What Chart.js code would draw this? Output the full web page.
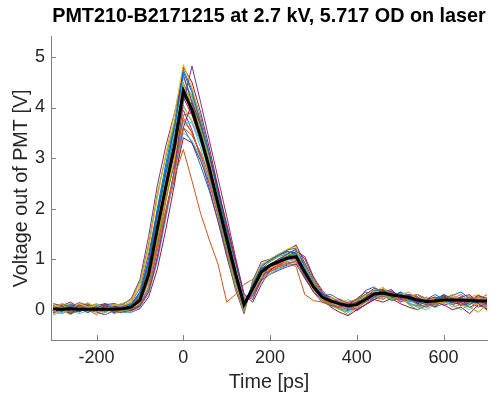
<!DOCTYPE html>
<html>
<head>
<meta charset="utf-8">
<script src="https://cdn.jsdelivr.net/npm/chart.js@4.4.1/dist/chart.umd.min.js"></script>
<style>
  html, body { margin: 0; padding: 0; background: #fff; }
</style>
</head>
<body>
<canvas id="myChart" width="492" height="394"></canvas>
<script>
// sample times in ps, one every 20 ps
const times = [-300,-280,-260,-240,-220,-200,-180,-160,-140,-120,-100,-80,-60,-40,-20,0,20,40,60,80,100,120,140,160,180,200,220,240,260,280,300,320,340,360,380,400,420,440,460,480,500,520,540,560,580,600,620,640,660,680,700];

// black average trace
const meanTrace = [0.01,0.01,0.02,0.01,0.01,0.01,0.01,0.01,0.02, 0.05,0.19,0.70,1.60,2.45,3.25,4.33, 3.95,3.42,2.80,2.10,1.40,0.72,0.10, 0.42,0.75,0.88,0.95,1.02,1.05,0.74,0.45,0.25, 0.17,0.12,0.08,0.10,0.20,0.31,0.33,0.29,0.27,0.24,0.19,0.16,0.17,0.19,0.19,0.19,0.18,0.17,0.17];

// single shots (volts)
const run01 = [0.05,-0.03,0.08,0.02,-0.06,0.04,0.10,0.03,0.06, 0.12,0.35,0.95,1.90,2.80,3.60,4.70, 4.30,3.70,3.05,2.30,1.55,0.80,0.12, 0.50,0.85,0.98,1.08,1.15,1.12,0.80,0.50,0.30, 0.20,0.10,0.05,0.12,0.25,0.38,0.40,0.30,0.33,0.20,0.15,0.10,0.20,0.25,0.15,0.22,0.10,0.20,0.15];
const run02 = [-0.08,0.02,-0.05,0.06,0.00,-0.10,0.03,-0.04,0.00, 0.00,0.10,0.40,1.15,1.95,2.75,3.60, 3.45,3.10,2.65,2.05,1.45,0.80,0.15, 0.30,0.62,0.75,0.85,0.90,0.98,0.80,0.50,0.28, 0.10,0.05,0.00,0.02,0.15,0.30,0.25,0.35,0.20,0.25,0.10,0.05,0.12,0.20,0.25,0.10,0.15,0.20,0.05];
const run03 = [0.10,0.04,0.00,0.12,0.05,0.08,-0.02,0.10,0.08, 0.15,0.45,1.20,2.20,3.10,3.90,4.85, 4.40,3.75,3.00,2.20,1.40,0.65,0.02, 0.50,0.90,1.00,1.10,1.20,1.25,0.70,0.38,0.20, 0.25,0.18,0.10,0.05,0.20,0.35,0.45,0.28,0.30,0.35,0.20,0.10,0.18,0.12,0.30,0.20,0.12,0.10,0.25];
const run04 = [0.00,0.08,-0.04,-0.02,0.10,0.02,0.05,-0.06,0.02, 0.00,0.08,0.35,1.00,1.90,2.80,4.10, 4.82,4.10,3.35,2.60,1.85,1.05,0.30, 0.20,0.60,0.90,1.00,1.10,1.20,1.00,0.62,0.35, 0.15,0.20,0.12,0.00,0.10,0.25,0.35,0.40,0.22,0.30,0.25,0.15,0.05,0.20,0.15,0.25,0.30,0.12,0.20];
const run05 = [0.05,0.12,0.08,0.00,0.06,0.10,0.02,0.08,0.12, 0.20,0.55,1.30,2.30,3.05,3.70,4.50, 4.00,3.35,2.65,1.90,1.15,0.45,-0.05, 0.55,0.90,0.95,1.05,1.10,1.08,0.68,0.40,0.18, 0.10,0.12,0.05,0.18,0.30,0.25,0.32,0.20,0.28,0.22,0.30,0.20,0.10,0.15,0.10,0.20,0.12,0.25,0.18];
const run06 = [-0.10,-0.05,0.00,-0.08,-0.02,0.04,-0.10,0.00,-0.05, -0.06,0.05,0.30,0.95,1.80,2.70,3.70, 3.70,3.30,2.80,2.15,1.50,0.85,0.20, 0.25,0.55,0.70,0.82,0.95,1.00,0.85,0.50,0.30, 0.15,0.05,-0.05,0.05,0.18,0.28,0.22,0.30,0.18,0.15,0.05,0.00,0.10,0.20,0.05,0.10,0.00,0.15,0.08];
const run07 = [0.02,0.00,0.06,-0.04,0.03,-0.02,0.08,0.00,0.04, 0.06,0.20,0.70,1.55,2.40,3.20,4.20, 3.85,3.35,2.75,2.05,1.35,0.70,0.08, 0.40,0.72,0.85,0.92,1.00,1.02,0.72,0.42,0.22, 0.18,0.12,0.10,0.15,0.22,0.30,0.38,0.25,0.20,0.30,0.12,0.20,0.25,0.18,0.20,0.10,0.20,0.15,0.12];
const run08 = [0.00,0.05,0.02,0.09,0.00,0.06,0.01,0.05,0.00, 0.10,0.30,0.90,1.85,2.70,3.45,4.40, 4.00,3.45,2.80,2.05,1.30,0.62,0.05, 0.45,0.80,0.90,1.00,1.05,1.10,0.70,0.45,0.25, 0.20,0.08,0.12,0.05,0.20,0.30,0.30,0.35,0.30,0.20,0.25,0.15,0.20,0.30,0.22,0.15,0.20,0.10,0.20];
const run09 = [0.05,-0.02,0.03,0.00,0.05,0.00,-0.03,0.04,0.02, 0.05,0.15,0.60,1.30,2.00,2.65,3.17, 2.55,1.90,1.38,0.90,0.15,0.30,0.50, 0.60,0.80,0.88,0.90,0.95,0.85,0.30,0.18,0.15, 0.10,0.05,0.15,0.20,0.30,0.25,0.20,0.30,0.15,0.25,0.20,0.10,0.15,0.30,0.20,0.10,0.18,0.25,0.20];
const run10 = [0.06,0.10,0.00,0.05,0.10,0.03,0.07,0.10,0.05, 0.08,0.22,0.75,1.50,2.30,3.00,4.00, 3.75,3.30,2.75,2.10,1.42,0.75,0.12, 0.38,0.70,0.82,0.90,0.98,1.05,0.78,0.48,0.28, 0.22,0.15,0.05,0.10,0.28,0.40,0.30,0.25,0.32,0.25,0.20,0.22,0.12,0.18,0.25,0.20,0.15,0.22,0.20];
const run11 = [0.12,0.08,0.15,0.05,0.10,0.02,0.12,0.06,0.10, 0.22,0.60,1.45,2.45,3.25,3.90,4.65, 4.10,3.40,2.70,1.90,1.10,0.40,-0.08, 0.58,0.95,1.00,1.08,1.15,1.10,0.65,0.35,0.15, 0.08,0.05,0.10,0.22,0.35,0.30,0.35,0.32,0.20,0.28,0.22,0.12,0.20,0.08,0.15,0.10,0.18,0.12,0.10];
const run12 = [-0.04,0.00,-0.10,0.02,-0.05,0.00,0.05,-0.08,-0.02, 0.00,0.12,0.55,1.35,2.20,3.00,4.20, 4.05,3.55,2.95,2.25,1.55,0.85,0.18, 0.35,0.68,0.82,0.95,1.02,1.08,0.82,0.52,0.30, 0.12,0.02,-0.10,0.05,0.15,0.32,0.28,0.22,0.30,0.12,0.05,0.10,0.20,0.15,0.25,0.10,0.05,-0.05,0.10];
const run13 = [0.00,-0.06,0.02,-0.03,0.05,-0.05,0.00,0.03,-0.02, 0.02,0.10,0.45,1.20,1.95,2.70,3.50, 3.35,3.00,2.55,1.95,1.35,0.72,0.12, 0.32,0.62,0.72,0.80,0.86,0.92,0.75,0.45,0.25, 0.15,0.10,0.00,0.08,0.20,0.22,0.30,0.20,0.28,0.18,0.10,0.15,0.05,0.20,0.12,0.22,0.15,0.10,0.20];
const run14 = [0.02,0.06,0.00,0.04,-0.02,0.08,0.00,-0.04,-0.06, -0.05,0.02,0.25,0.80,1.60,2.50,3.60, 4.10,3.65,3.05,2.40,1.70,1.00,0.30, 0.15,0.50,0.78,0.92,1.05,1.15,1.05,0.65,0.38, 0.20,0.10,0.05,-0.02,0.10,0.20,0.30,0.35,0.28,0.15,0.22,0.10,0.18,0.28,0.10,0.15,0.05,0.12,0.00];
const run15 = [0.08,0.00,0.10,0.05,0.12,0.00,0.06,0.10,0.04, 0.10,0.35,1.00,2.00,2.90,3.70,4.75, 4.35,3.80,3.10,2.35,1.55,0.80,0.10, 0.48,0.85,1.00,1.10,1.18,1.22,0.85,0.50,0.28, 0.30,0.20,0.08,0.15,0.38,0.45,0.30,0.25,0.35,0.28,0.12,0.20,0.30,0.20,0.28,0.35,0.22,0.18,0.25];
const run16 = [-0.05,0.04,-0.02,0.00,0.08,-0.04,0.02,0.00,0.06, 0.08,0.28,0.85,1.70,2.45,3.10,3.80, 3.50,3.05,2.50,1.85,1.20,0.60,0.05, 0.40,0.72,0.80,0.88,0.92,0.95,0.65,0.40,0.20, 0.12,0.05,0.10,0.20,0.25,0.35,0.40,0.28,0.15,0.20,0.30,0.18,0.08,0.20,0.30,0.15,0.25,0.20,0.30];
const run17 = [0.10,0.03,0.07,0.12,0.02,0.09,0.05,0.00,0.10, 0.12,0.25,0.80,1.75,2.60,3.40,4.45, 4.10,3.55,2.90,2.20,1.45,0.75,0.10, 0.42,0.78,0.90,1.00,1.08,1.12,0.78,0.45,0.25, 0.15,0.22,0.15,0.08,0.25,0.32,0.38,0.30,0.22,0.30,0.18,0.25,0.15,0.22,0.15,0.20,0.28,0.20,0.15];
const run18 = [0.04,0.10,0.06,0.14,0.08,0.02,0.10,0.12,0.08, 0.15,0.42,1.10,1.95,2.70,3.30,3.95, 3.55,3.00,2.40,1.75,1.05,0.45,0.00, 0.50,0.82,0.88,0.95,1.00,1.00,0.62,0.35,0.20, 0.25,0.15,0.08,0.12,0.22,0.28,0.25,0.35,0.25,0.20,0.15,0.25,0.10,0.25,0.15,0.10,0.20,0.28,0.22];
const run19 = [-0.02,-0.08,0.00,0.05,-0.04,0.02,-0.06,0.04,0.00, 0.03,0.15,0.60,1.50,2.35,3.20,4.45, 4.25,3.70,3.05,2.30,1.55,0.85,0.15, 0.35,0.70,0.88,1.00,1.10,1.18,0.90,0.55,0.30, 0.10,0.00,-0.05,0.10,0.20,0.25,0.35,0.20,0.25,0.10,0.00,0.08,0.18,0.25,0.10,0.00,0.10,0.20,-0.02];
const run20 = [0.06,0.02,0.10,0.00,0.04,0.10,0.06,0.02,0.08, 0.10,0.32,0.95,1.95,2.80,3.55,4.60, 4.20,3.60,2.90,2.15,1.40,0.70,0.06, 0.45,0.82,0.95,1.05,1.12,1.18,0.75,0.45,0.22, 0.15,0.12,0.20,0.10,0.20,0.30,0.40,0.30,0.25,0.35,0.20,0.15,0.20,0.18,0.12,0.25,0.20,0.15,0.20];
const run21 = [-0.06,0.00,-0.08,-0.02,0.00,-0.05,-0.10,-0.02,-0.04, -0.02,0.08,0.45,1.20,1.90,2.60,3.40, 3.30,2.95,2.50,1.95,1.35,0.75,0.12, 0.30,0.58,0.70,0.78,0.85,0.90,0.75,0.45,0.22, 0.05,-0.05,-0.12,0.00,0.10,0.20,0.15,0.22,0.12,0.05,0.00,0.08,0.15,0.10,0.00,0.05,-0.08,0.10,0.02];
const run22 = [0.03,-0.04,0.05,0.10,0.00,0.06,-0.03,0.08,0.02, 0.08,0.20,0.68,1.55,2.40,3.20,4.25, 4.05,3.55,2.92,2.20,1.48,0.78,0.12, 0.38,0.72,0.86,0.96,1.04,1.08,0.78,0.46,0.24, 0.12,0.18,0.05,0.15,0.22,0.35,0.30,0.38,0.25,0.22,0.15,0.20,0.12,0.22,0.18,0.25,0.12,0.20,0.22];
const run23 = [0.08,0.02,0.12,0.04,0.08,0.00,0.10,0.05,0.03, 0.06,0.22,0.70,1.50,2.25,2.95,3.75, 3.50,3.05,2.55,1.95,1.30,0.68,0.10, 0.40,0.70,0.80,0.86,0.92,0.95,0.70,0.42,0.22, 0.10,0.15,0.12,0.05,0.18,0.30,0.28,0.22,0.30,0.18,0.25,0.10,0.20,0.15,0.22,0.30,0.18,0.12,0.15];
const run24 = [0.10,0.06,0.00,0.08,0.14,0.05,0.10,0.08,0.12, 0.18,0.50,1.25,2.25,3.05,3.75,4.60, 4.10,3.45,2.75,2.00,1.20,0.50,0.00, 0.52,0.88,0.98,1.08,1.15,1.12,0.70,0.40,0.20, 0.20,0.10,0.05,0.15,0.28,0.40,0.35,0.28,0.20,0.30,0.22,0.15,0.25,0.18,0.10,0.20,0.25,0.30,0.18];
const run25 = [-0.03,0.04,-0.06,0.00,0.05,-0.02,0.02,-0.05,0.00, -0.02,0.06,0.35,1.05,1.90,2.75,3.85, 3.90,3.45,2.90,2.25,1.60,0.92,0.22, 0.25,0.58,0.78,0.88,0.98,1.06,0.88,0.55,0.32, 0.18,0.08,0.02,0.08,0.15,0.25,0.32,0.28,0.18,0.22,0.12,0.05,0.15,0.22,0.18,0.08,0.15,0.05,0.12];
const run26 = [0.00,0.08,0.03,-0.05,0.06,0.12,0.02,0.06,0.00, 0.04,0.14,0.55,1.40,2.30,3.15,4.35, 4.20,3.70,3.05,2.32,1.60,0.90,0.20, 0.32,0.66,0.86,0.98,1.08,1.14,0.88,0.55,0.30, 0.22,0.12,0.08,0.05,0.22,0.30,0.42,0.35,0.22,0.28,0.30,0.15,0.10,0.25,0.20,0.15,0.25,0.22,0.10];
const run27 = [0.06,0.00,0.04,0.10,0.02,0.08,0.04,0.12,0.06, 0.10,0.28,0.85,1.70,2.50,3.20,4.05, 3.70,3.20,2.60,1.95,1.28,0.62,0.06, 0.45,0.76,0.86,0.94,1.00,1.02,0.68,0.40,0.22, 0.15,0.20,0.10,0.08,0.18,0.28,0.32,0.25,0.35,0.22,0.15,0.22,0.18,0.12,0.22,0.20,0.28,0.15,0.20];
const run28 = [0.04,0.10,0.02,0.06,0.00,0.08,0.12,0.04,0.08, 0.08,0.25,0.80,1.80,2.75,3.65,4.80, 4.50,3.90,3.20,2.42,1.62,0.88,0.16, 0.42,0.80,0.96,1.08,1.18,1.28,0.92,0.55,0.30, 0.25,0.15,0.12,0.20,0.30,0.42,0.38,0.32,0.28,0.20,0.30,0.22,0.15,0.28,0.20,0.25,0.15,0.28,0.20];
const run29 = [-0.04,0.02,-0.08,0.04,-0.02,0.00,0.05,-0.04,0.02, 0.06,0.24,0.78,1.55,2.25,2.88,3.60, 3.30,2.85,2.35,1.75,1.12,0.55,0.04, 0.42,0.68,0.76,0.82,0.88,0.90,0.62,0.38,0.18, 0.08,0.02,-0.02,0.10,0.22,0.20,0.28,0.18,0.22,0.12,0.08,0.15,0.05,0.12,0.20,0.08,0.12,0.18,0.05];
const run30 = [0.02,-0.05,0.06,0.00,0.10,0.04,-0.04,0.06,0.03, 0.00,0.10,0.45,1.25,2.15,3.00,4.20, 4.15,3.65,3.05,2.35,1.65,0.95,0.25, 0.28,0.62,0.82,0.95,1.05,1.12,0.92,0.58,0.32, 0.16,0.10,0.04,0.08,0.18,0.28,0.36,0.30,0.26,0.18,0.12,0.18,0.22,0.16,0.10,0.18,0.24,0.12,0.18];

const runs = [run01, run02, run03, run04, run05, run06, run07, run08, run09, run10, run11, run12, run13, run14, run15, run16, run17, run18, run19, run20, run21, run22, run23, run24, run25, run26, run27, run28, run29, run30];

const xTicks = [-200, 0, 200, 400, 600];
const yTicks = [0, 1, 2, 3, 4, 5];

// matlab default line colors
const lineColors = ["#0072BD", "#D95319", "#EDB120", "#7E2F8E", "#77AC30", "#4DBEEE", "#A2142F"];
const axisColor = "#808080";
const textColor = "#262626";
const fontFamily = "'Liberation Sans', Arial, sans-serif";

runs.forEach((r, k) => { if (r.length !== times.length) console.error("run" + (k + 1) + " has " + r.length); });

const toPoints = vals => times.map((t, i) => ({x: t, y: vals[i]}));

// first dataset is drawn on top, so the mean goes first
const datasets = [{ data: toPoints(meanTrace), borderColor: "#000", borderWidth: 3 }];
runs.forEach((r, k) => {
  datasets.push({ data: toPoints(r), borderColor: lineColors[k % lineColors.length], borderWidth: 1 });
});

// matlab style ticks pointing into the plot
const inwardTicks = {
  id: "inwardTicks",
  afterDatasetsDraw(chart) {
    const {ctx, chartArea, scales: {x, y}} = chart;
    ctx.save();
    ctx.strokeStyle = axisColor;
    ctx.lineWidth = 1;
    ctx.beginPath();
    xTicks.forEach(v => {
      const px = Math.round(x.getPixelForValue(v)) + 0.5;
      ctx.moveTo(px, chartArea.bottom);
      ctx.lineTo(px, chartArea.bottom - 5);
    });
    yTicks.forEach(v => {
      const py = Math.round(y.getPixelForValue(v)) + 0.5;
      ctx.moveTo(chartArea.left, py);
      ctx.lineTo(chartArea.left + 5, py);
    });
    ctx.stroke();
    ctx.restore();
  }
};

const config = {
  type: "line",
  data: { datasets },
  options: {
    responsive: false,
    animation: false,
    events: [],
    elements: { point: { radius: 0 }, line: { tension: 0 } },
    layout: { padding: { right: 5 } },
    plugins: {
      legend: { display: false },
      tooltip: { enabled: false },
      title: {
        display: true,
        fullSize: false,
        text: "PMT210-B2171215 at 2.7 kV, 5.717 OD on laser",
        color: "#000",
        font: { family: fontFamily, size: 19.8, weight: "bold" },
        padding: { top: 5, bottom: 8 }
      }
    },
    scales: {
      x: {
        type: "linear",
        min: -305,
        max: 700,
        afterBuildTicks: s => { s.ticks = xTicks.map(v => ({value: v})); },
        afterFit: s => { s.height = 54; },
        grid: { display: false, drawTicks: false },
        border: { color: axisColor, width: 1 },
        ticks: { color: textColor, padding: 7, maxRotation: 0, font: { family: fontFamily, size: 18 } },
        title: { display: true, text: "Time [ps]", color: textColor, padding: { top: 0, bottom: 0 }, font: { family: fontFamily, size: 19.8 } }
      },
      y: {
        type: "linear",
        min: -0.6,
        max: 5.4,
        afterBuildTicks: s => { s.ticks = yTicks.map(v => ({value: v})); },
        afterFit: s => { s.width = 51; },
        grid: { display: false, drawTicks: false },
        border: { color: axisColor, width: 1 },
        ticks: { color: textColor, padding: 6, font: { family: fontFamily, size: 18 } },
        title: { display: true, text: "Voltage out of PMT [V]", color: textColor, padding: { top: 10, bottom: 0 }, font: { family: fontFamily, size: 19.8 } }
      }
    }
  },
  plugins: [inwardTicks]
};

const myChart = new Chart(document.getElementById("myChart"), config);
</script>
</body>
</html>
